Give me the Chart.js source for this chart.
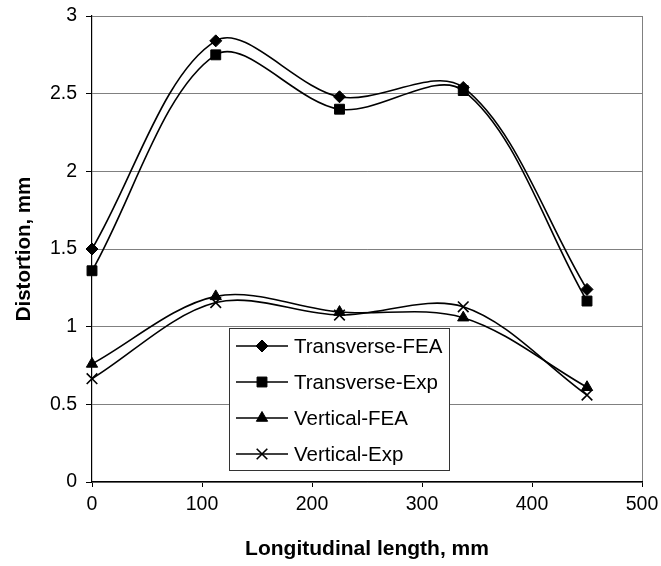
<!DOCTYPE html>
<html>
<head>
<meta charset="utf-8">
<script src="https://cdn.jsdelivr.net/npm/chart.js@4/dist/chart.umd.min.js"></script>
<style>
  body { margin: 0; background: #fff; }
  canvas { display: block; }
</style>
</head>
<body>
<canvas id="distChart" width="661" height="566"></canvas>
<script>
const positions = [0, 112.5, 225, 337.5, 450]
const transverseFEA = [1.5, 2.84, 2.48, 2.54, 1.24]
const transverseExp = [1.36, 2.75, 2.4, 2.52, 1.165]
const verticalFEA = [0.76, 1.195, 1.094, 1.058, 0.61]
const verticalExp = [0.665, 1.155, 1.075, 1.128, 0.56]
const seriesNames = ['Transverse-FEA', 'Transverse-Exp', 'Vertical-FEA', 'Vertical-Exp']

const FONT = "'Liberation Sans', Arial, sans-serif"

const toPoints = (vals) => positions.map((x, i) => ({ x: x, y: vals[i] }))

const makeSet = (label, vals, style, radius) => ({
    label: label,
    data: toPoints(vals),
    borderColor: '#000',
    borderWidth: 1.6,
    backgroundColor: '#000',
    pointStyle: style,
    pointRadius: radius,
    pointHoverRadius: radius,
    pointBorderWidth: style === 'crossRot' ? 1.6 : 1,
    tension: 0.33,
    clip: false,
})

// legend drawn inside the plot, Excel style
const boxLegend = {
    id: 'boxLegend',
    afterDatasetsDraw(chart) {
        const ctx = chart.ctx
        const box = { x: 229.5, y: 328.5, w: 220, h: 142 }
        ctx.save()
        ctx.fillStyle = '#fff'
        ctx.fillRect(box.x, box.y, box.w, box.h)
        ctx.strokeStyle = '#333'
        ctx.lineWidth = 1
        ctx.strokeRect(box.x, box.y, box.w, box.h)
        ctx.font = '20.5px ' + FONT
        ctx.textBaseline = 'middle'
        chart.data.datasets.forEach((ds, i) => {
            const cy = 346 + i * 36
            ctx.strokeStyle = '#000'
            ctx.lineWidth = 1.6
            ctx.beginPath()
            ctx.moveTo(236, cy)
            ctx.lineTo(288, cy)
            ctx.stroke()
            ctx.fillStyle = '#000'
            ctx.lineWidth = ds.pointBorderWidth
            Chart.helpers.drawPoint(ctx, {
                pointStyle: ds.pointStyle,
                radius: ds.pointRadius,
                borderWidth: ds.pointBorderWidth,
                rotation: 0
            }, 262, cy)
            ctx.fillStyle = '#000'
            ctx.fillText(seriesNames[i], 294, cy + 1)
        })
        ctx.restore()
    }
}

const ctx = document.getElementById('distChart').getContext('2d')

new Chart(ctx, {
    type: 'line',
    data: {
        datasets: [
            makeSet(seriesNames[0], transverseFEA, 'rectRot', 6),
            makeSet(seriesNames[1], transverseExp, 'rect', 7),
            makeSet(seriesNames[2], verticalFEA, 'triangle', 6.5),
            makeSet(seriesNames[3], verticalExp, 'crossRot', 7.5),
        ]
    },
    options: {
        responsive: false,
        animation: false,
        layout: {
            padding: { top: 16, right: 19, left: 0, bottom: 0 }
        },
        scales: {
            x: {
                type: 'linear',
                min: 0,
                max: 500,
                afterFit: (scale) => {
                    scale.height = 84
                    scale.paddingLeft = 0
                    scale.paddingRight = 17
                },
                ticks: {
                    stepSize: 100,
                    color: '#000',
                    padding: 6,
                    font: { family: FONT, size: 19.5 }
                },
                grid: {
                    drawOnChartArea: true,
                    color: (c) => c.tick && c.tick.value === 500 ? '#808080' : 'rgba(0,0,0,0)',
                    tickColor: '#000',
                    tickLength: 5,
                },
                border: { color: '#000', width: 1.2 },
                title: {
                    display: true,
                    text: 'Longitudinal length, mm',
                    color: '#000',
                    padding: { top: 0, bottom: 4 },
                    font: { family: FONT, size: 21, weight: 'bold' }
                }
            },
            y: {
                min: 0,
                max: 3,
                afterFit: (scale) => {
                    scale.width = 92
                    scale.paddingTop = 12
                    scale.paddingBottom = 0
                },
                ticks: {
                    stepSize: 0.5,
                    color: '#000',
                    padding: 9,
                    callback: (v) => String(v),
                    font: { family: FONT, size: 19.5 }
                },
                grid: {
                    color: '#808080',
                    tickColor: '#000',
                    tickLength: 6,
                },
                border: { color: '#000', width: 1.2 },
                title: {
                    display: true,
                    text: 'Distortion, mm',
                    color: '#000',
                    padding: { top: 12, bottom: 0 },
                    font: { family: FONT, size: 20.5, weight: 'bold' }
                }
            }
        },
        plugins: {
            legend: { display: false },
            tooltip: { enabled: false }
        }
    },
    plugins: [boxLegend]
});
</script>
</body>
</html>
